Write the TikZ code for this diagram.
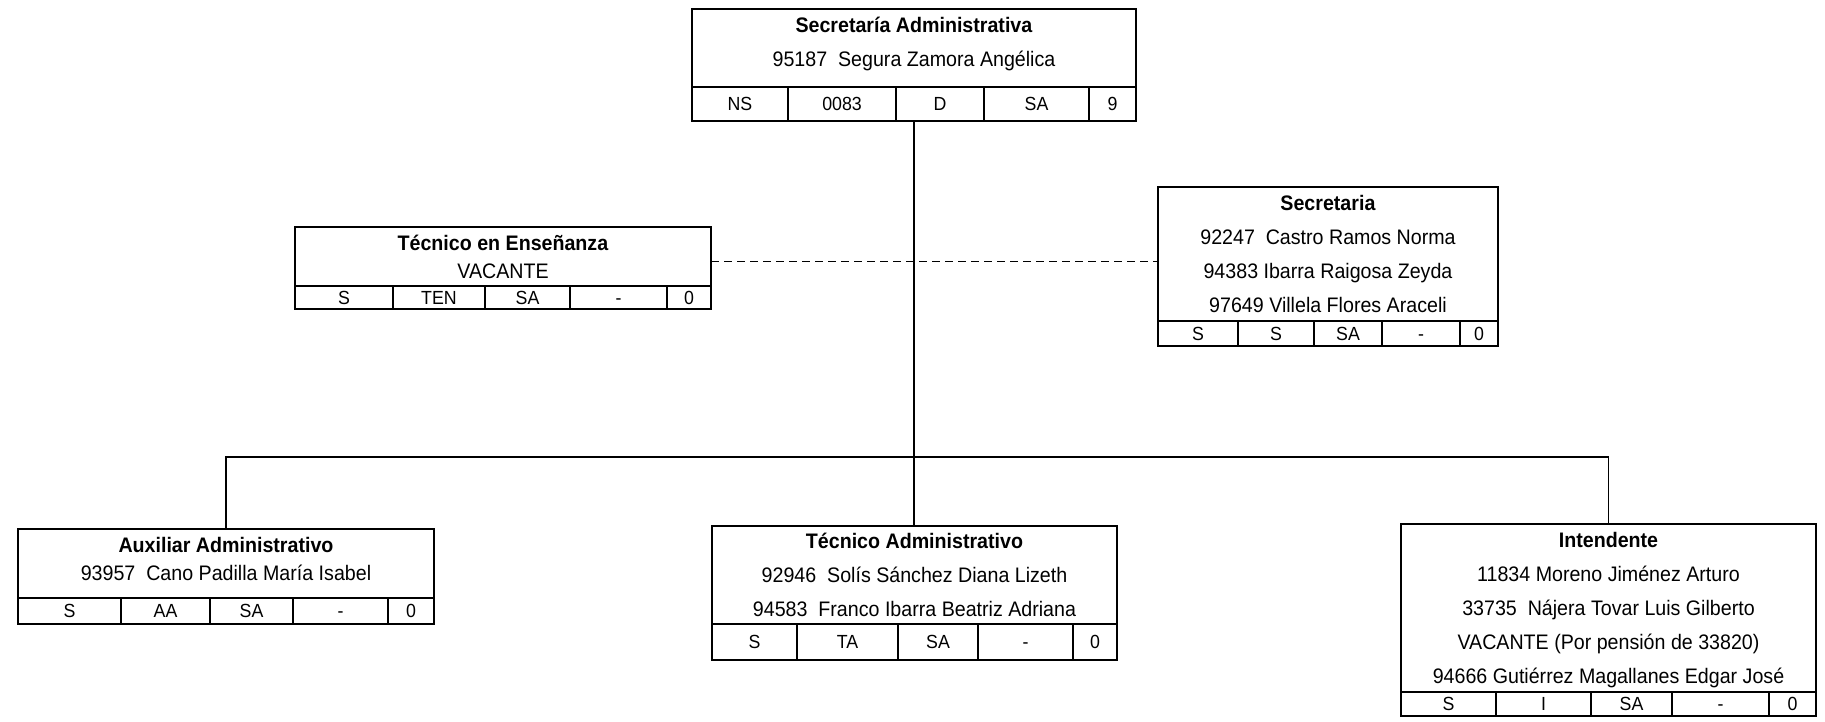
\documentclass[tikz,border=0pt]{standalone}
\usepackage{fontspec}
\setmainfont[FakeStretch=0.935]{Liberation Sans}
\usetikzlibrary{positioning,fit}
\tikzset{
  % Header box
  PB/.style={rectangle,draw,line width=2pt,inner sep=0pt,outer sep=0pt,
             anchor=north west,align=center,text centered,
             font=\fontsize{21}{34}\selectfont},
  % Table cell
  CL/.style={rectangle,draw,line width=1.3pt,inner sep=0pt,outer sep=0pt,
             text height=13.6pt,text depth=0pt,
             font=\fontsize{19}{22}\selectfont},
  % Outer frame
  MK/.style={rectangle,draw,line width=2.4pt,inner sep=0pt,outer sep=0pt},
  % Connectors
  ln/.style={line width=1.5pt},
  dl/.style={line width=1.5pt,dash pattern=on 8pt off 5pt}
}

\begin{document}
\begin{tikzpicture}[x=1pt,y=-1pt]
  \useasboundingbox (0,0) rectangle (1825,721);
  % Secretaria Administrativa
  \node[PB,minimum width=444pt,minimum height=78pt,text depth=13pt] (sadm) at (692,9)
    {\textbf{Secretaría Administrativa}\\95187\ \ Segura Zamora Angélica};
  \node[CL,minimum width=96pt,minimum height=34pt,below right=0pt of sadm.south west] (sadm-1) {NS};
  \node[CL,minimum width=108pt,minimum height=34pt,right=0pt of sadm-1] (sadm-2) {0083};
  \node[CL,minimum width=88pt,minimum height=34pt,right=0pt of sadm-2]  (sadm-3) {D};
  \node[CL,minimum width=105pt,minimum height=34pt,right=0pt of sadm-3] (sadm-4) {SA};
  \node[CL,minimum width=47pt,minimum height=34pt,right=0pt of sadm-4]  (sadm-5) {9};
  \node[MK,fit=(sadm)(sadm-5)] (sadm-box) {};
  % Tecnico en Ensenanza
  \node[PB,minimum width=416pt,minimum height=59pt,font=\fontsize{21}{28}\selectfont] (ten) at (295,227)
    {\textbf{Técnico en Enseñanza}\\VACANTE};
  \node[CL,minimum width=98pt,minimum height=23pt,below right=0pt of ten.south west] (ten-1) {S};
  \node[CL,minimum width=92pt,minimum height=23pt,right=0pt of ten-1] (ten-2) {TEN};
  \node[CL,minimum width=85pt,minimum height=23pt,right=0pt of ten-2] (ten-3) {SA};
  \node[CL,minimum width=97pt,minimum height=23pt,right=0pt of ten-3] (ten-4) {-};
  \node[CL,minimum width=44pt,minimum height=23pt,right=0pt of ten-4] (ten-5) {0};
  \node[MK,fit=(ten)(ten-5)] (ten-box) {};
  % Secretaria
  \node[PB,minimum width=340pt,minimum height=134pt] (sec) at (1158,187)
    {\textbf{Secretaria}\\92247\ \ Castro Ramos Norma\\94383 Ibarra Raigosa Zeyda\\97649 Villela Flores Araceli};
  \node[CL,minimum width=80pt,minimum height=25pt,below right=0pt of sec.south west] (sec-1) {S};
  \node[CL,minimum width=76pt,minimum height=25pt,right=0pt of sec-1] (sec-2) {S};
  \node[CL,minimum width=68pt,minimum height=25pt,right=0pt of sec-2] (sec-3) {SA};
  \node[CL,minimum width=78pt,minimum height=25pt,right=0pt of sec-3] (sec-4) {-};
  \node[CL,minimum width=38pt,minimum height=25pt,right=0pt of sec-4] (sec-5) {0};
  \node[MK,fit=(sec)(sec-5)] (sec-box) {};
  % Auxiliar Administrativo
  \node[PB,minimum width=416pt,minimum height=69pt,text depth=9pt,font=\fontsize{21}{28}\selectfont] (aux) at (18,529)
    {\textbf{Auxiliar Administrativo}\\93957\ \ Cano Padilla María Isabel};
  \node[CL,minimum width=103pt,minimum height=26pt,below right=0pt of aux.south west] (aux-1) {S};
  \node[CL,minimum width=89pt,minimum height=26pt,right=0pt of aux-1] (aux-2) {AA};
  \node[CL,minimum width=83pt,minimum height=26pt,right=0pt of aux-2] (aux-3) {SA};
  \node[CL,minimum width=95pt,minimum height=26pt,right=0pt of aux-3] (aux-4) {-};
  \node[CL,minimum width=46pt,minimum height=26pt,right=0pt of aux-4] (aux-5) {0};
  \node[MK,fit=(aux)(aux-5)] (aux-box) {};
  % Tecnico Administrativo
  \node[PB,minimum width=405pt,minimum height=98pt] (tad) at (712,526)
    {\textbf{Técnico Administrativo}\\92946\ \ Solís Sánchez Diana Lizeth\\94583\ \ Franco Ibarra Beatriz Adriana};
  \node[CL,minimum width=85pt,minimum height=36pt,below right=0pt of tad.south west] (tad-1) {S};
  \node[CL,minimum width=101pt,minimum height=36pt,right=0pt of tad-1] (tad-2) {TA};
  \node[CL,minimum width=80pt,minimum height=36pt,right=0pt of tad-2]  (tad-3) {SA};
  \node[CL,minimum width=95pt,minimum height=36pt,right=0pt of tad-3]  (tad-4) {-};
  \node[CL,minimum width=44pt,minimum height=36pt,right=0pt of tad-4]  (tad-5) {0};
  \node[MK,fit=(tad)(tad-5)] (tad-box) {};
  % Intendente
  \node[PB,minimum width=415pt,minimum height=168pt,text depth=0pt] (int) at (1401,524)
    {\textbf{Intendente}\\11834 Moreno Jiménez Arturo\\33735\ \ Nájera Tovar Luis Gilberto\\VACANTE (Por pensión de 33820)\\94666 Gutiérrez Magallanes Edgar José};
  \node[CL,minimum width=95pt,minimum height=24pt,below right=0pt of int.south west] (int-1) {S};
  \node[CL,minimum width=95pt,minimum height=24pt,right=0pt of int-1] (int-2) {I};
  \node[CL,minimum width=81pt,minimum height=24pt,right=0pt of int-2] (int-3) {SA};
  \node[CL,minimum width=97pt,minimum height=24pt,right=0pt of int-3] (int-4) {-};
  \node[CL,minimum width=47pt,minimum height=24pt,right=0pt of int-4] (int-5) {0};
  \node[MK,fit=(int)(int-5)] (int-box) {};
  % Connectors
  \coordinate (bus) at (914,457);
  \draw[ln] (sadm-box.south) -- (sadm-box.south |- tad-box.north);
  \draw[ln] (aux-box.north) |- (bus) -| (int-box.north);
  \draw[dl] ([yshift=-5pt]ten.east) -- ([yshift=-5pt]ten.east -| sec.west);
\end{tikzpicture}
\end{document}
